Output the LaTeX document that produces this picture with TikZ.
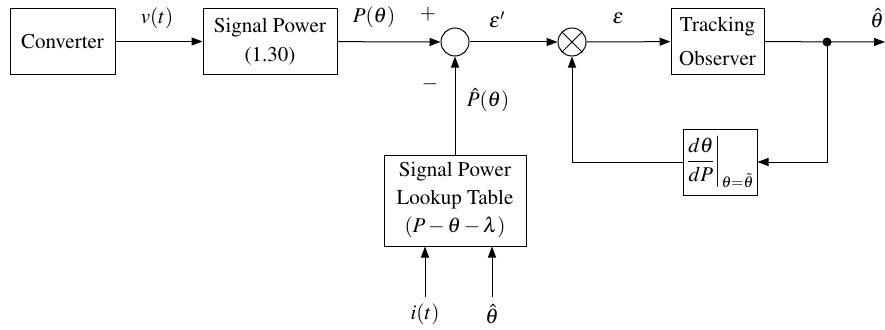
\documentclass[tikz,border=0pt]{standalone}
\usepackage[T1]{fontenc}
\usepackage{mathptmx}
\usetikzlibrary{arrows.meta}
\begin{document}
\begin{tikzpicture}[x=1pt,y=-1pt,
  every node/.style={font=\fontsize{21}{29}\selectfont},
  blk/.style={draw,line width=1pt,align=center,inner sep=0pt},
  sumc/.style={draw,circle,line width=1pt,minimum size=28pt,inner sep=0pt},
  conn/.style={line width=1pt,-{Triangle[length=11pt,width=8pt]}},
  lbl/.style={inner sep=0pt}]
\useasboundingbox (0,0) rectangle (885,329);
\node[blk,minimum width=105pt,minimum height=66pt] (conv) at (62.5,41.5) {Converter};
\node[blk,minimum width=134pt,minimum height=65pt] (sp) at (270,41.5) {Signal Power\\(1.30)};
\node[sumc] (sum) at (455,42) {};
\node[sumc] (mul) at (572,42) {};
\draw[line width=0.8pt] (mul.north west) -- (mul.south east) (mul.north east) -- (mul.south west);
\node[blk,minimum width=93pt,minimum height=65pt,font=\fontsize{21}{34}\selectfont] (to) at (717.5,41.5) {Tracking\\Observer};
\fill (827,42) circle (4.5pt);
\coordinate (dot) at (827,42);
\coordinate (out) at (885,42);
\node[blk,minimum width=142pt,minimum height=91pt,font=\fontsize{21}{28}\selectfont] (lut) at (455,200.5) {Signal Power\\Lookup Table\\$(P-\theta-\lambda)$};
\node[blk,minimum width=74pt,minimum height=66pt] (fb) at (720,162) {$\displaystyle\left.\frac{d\theta}{dP}\right|_{\theta=\tilde{\theta}}$};
\coordinate (it) at (425,297);
\coordinate (th) at (492,297);
\coordinate (c1) at (827,162);
\coordinate (c2) at (572,162);
\draw[conn] (conv) -- (sp);
\draw[conn] (sp) -- (sum);
\draw[conn] (sum) -- (mul);
\draw[conn] (mul) -- (to);
\draw[conn] (to) -- (out);
\draw[conn] (lut) -- (sum);
\draw[conn] (dot) -- (c1) -- (fb);
\draw[conn] (fb) -- (c2) -- (mul);
\draw[conn] (it) -- (it |- lut.south);
\draw[conn] (th) -- (th |- lut.south);
\node[lbl] (lv) at (157,18) {$v(t)$};
\node[lbl] (lp) at (374,17) {$P(\theta)$};
\node[lbl] (lplus) at (428,14) {$+$};
\node[lbl] (lminus) at (430,84) {$-$};
\node[lbl] (le1) at (497,20) {$\varepsilon'$};
\node[lbl] (le) at (618,18) {$\varepsilon$};
\node[lbl] (lth) at (877,18) {$\hat{\theta}$};
\node[lbl] (lph) at (488,100) {$\hat{P}(\theta)$};
\node[lbl] (lit) at (425,314) {$i(t)$};
\node[lbl] (lth2) at (492,314) {$\hat{\theta}$};
\end{tikzpicture}
\end{document}
